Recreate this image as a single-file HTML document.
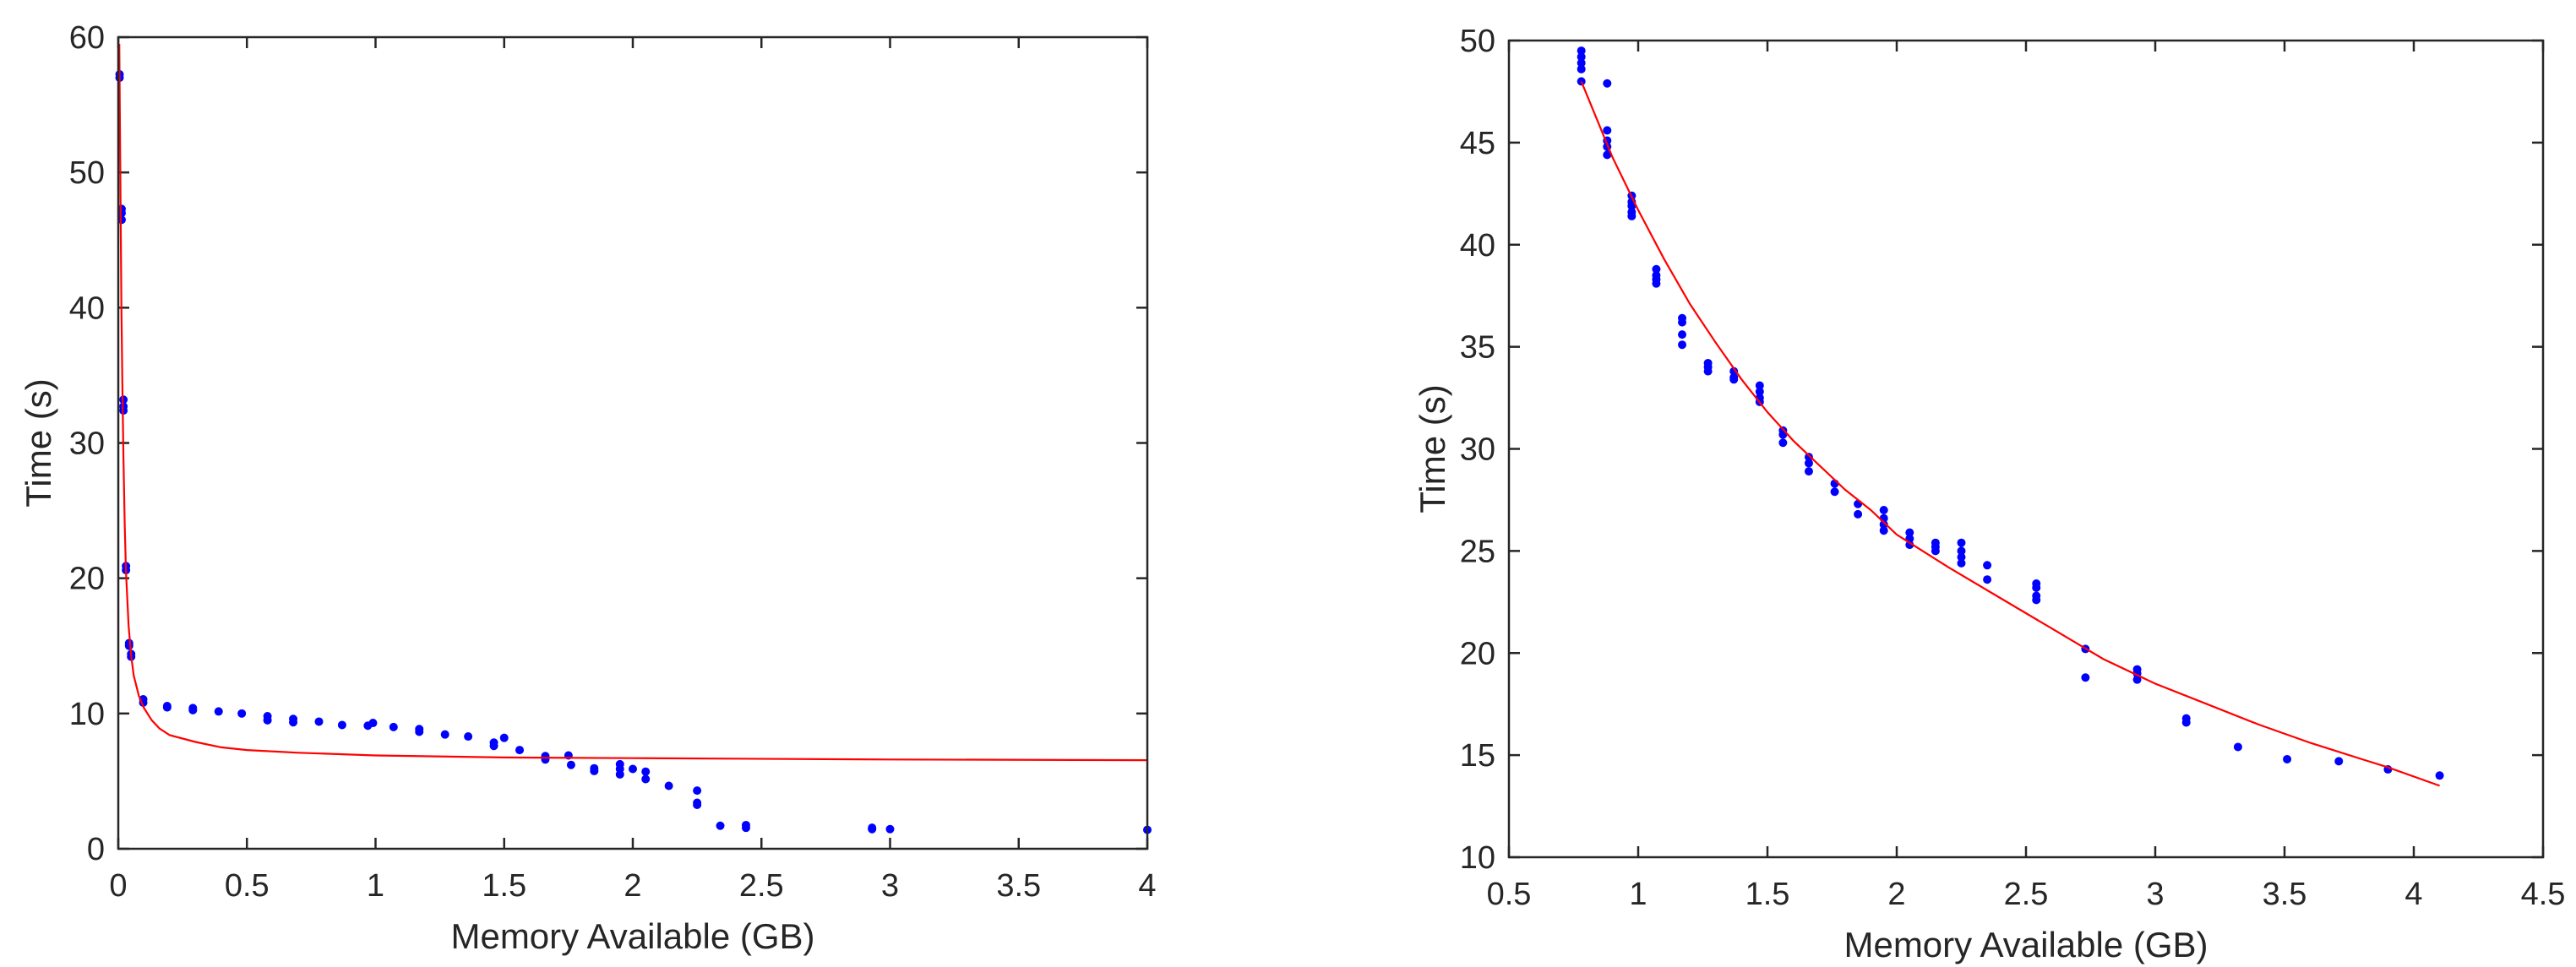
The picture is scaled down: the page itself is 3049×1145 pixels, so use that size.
<!DOCTYPE html>
<html><head><meta charset="utf-8"><style>
html,body{margin:0;padding:0;background:#fff;}
svg{display:block;font-family:"Liberation Sans",Arial,sans-serif;}
</style></head><body>
<svg id="chart" width="3049" height="1145" viewBox="0 0 3049 1145" xmlns="http://www.w3.org/2000/svg">
<g id="left"></g>
<g id="right"></g>
</svg>
<script>
// Left plot data
const leftXTicks = [0,0.5,1,1.5,2,2.5,3,3.5,4];
const leftXTickLabels = ["0","0.5","1","1.5","2","2.5","3","3.5","4"];
const leftYTicks = [0,10,20,30,40,50,60];
const leftYTickLabels = ["0","10","20","30","40","50","60"];
const leftPointsX = [0.005,0.005,0.013,0.013,0.013,0.02,0.02,0.02,0.03,0.03,0.042,0.042,0.05,0.05,0.097,0.097,0.19,0.19,0.29,0.29,0.39,0.48,0.58,0.58,0.68,0.68,0.78,0.87,0.97,0.99,1.07,1.17,1.17,1.27,1.36,1.46,1.46,1.50,1.56,1.66,1.66,1.75,1.76,1.85,1.85,1.95,1.95,1.95,2.0,2.05,2.05,2.14,2.25,2.25,2.25,2.34,2.44,2.44,2.93,2.93,3.0,4.0];
const leftPointsY = [57.25,57.0,47.3,47.0,46.5,33.2,32.7,32.4,20.9,20.6,15.2,15.0,14.4,14.2,11.05,10.8,10.55,10.45,10.4,10.25,10.15,10.0,9.8,9.5,9.6,9.35,9.4,9.15,9.1,9.3,9.0,8.85,8.65,8.45,8.3,7.85,7.6,8.2,7.3,6.85,6.6,6.9,6.2,5.95,5.75,6.25,5.9,5.5,5.9,5.7,5.15,4.65,4.3,3.4,3.25,1.7,1.75,1.55,1.55,1.45,1.45,1.4];
const leftCurveX = [0.004,0.008,0.012,0.016,0.02,0.025,0.03,0.04,0.05,0.06,0.08,0.1,0.13,0.16,0.2,0.3,0.4,0.5,0.7,1,1.5,2,3,4];
const leftCurveY = [59.5,50,40,34,29,24,20.5,16.5,14.3,12.8,11.3,10.4,9.5,8.9,8.4,7.9,7.5,7.3,7.1,6.9,6.75,6.7,6.6,6.55];
// Right plot data
const rightXTicks = [0.5,1,1.5,2,2.5,3,3.5,4,4.5];
const rightXTickLabels = ["0.5","1","1.5","2","2.5","3","3.5","4","4.5"];
const rightYTicks = [10,15,20,25,30,35,40,45,50];
const rightYTickLabels = ["10","15","20","25","30","35","40","45","50"];
const rightPointsX = [0.78,0.78,0.78,0.78,0.78,0.88,0.88,0.88,0.88,0.88,0.975,0.975,0.975,0.975,0.975,1.07,1.07,1.07,1.07,1.17,1.17,1.17,1.17,1.27,1.27,1.27,1.37,1.37,1.37,1.47,1.47,1.47,1.47,1.56,1.56,1.56,1.66,1.66,1.66,1.76,1.76,1.85,1.85,1.95,1.95,1.95,1.95,2.05,2.05,2.05,2.15,2.15,2.15,2.25,2.25,2.25,2.25,2.35,2.35,2.54,2.54,2.54,2.54,2.73,2.73,2.93,2.93,2.93,3.12,3.12,3.32,3.51,3.71,3.9,4.1];
const rightPointsY = [49.5,49.2,48.9,48.6,48.0,47.9,45.6,45.1,44.8,44.4,42.4,42.1,41.9,41.6,41.4,38.8,38.5,38.3,38.1,36.4,36.2,35.6,35.1,34.2,34.0,33.8,33.8,33.5,33.4,33.1,32.8,32.5,32.3,30.9,30.7,30.3,29.6,29.3,28.9,28.3,27.9,27.3,26.8,27.0,26.6,26.3,26.0,25.9,25.6,25.3,25.4,25.2,25.0,25.4,25.0,24.7,24.4,24.3,23.6,23.4,23.2,22.8,22.6,20.2,18.8,19.2,19.0,18.7,16.8,16.6,15.4,14.8,14.7,14.3,14.0];
const rightCurveX = [0.78,0.9,1.0,1.1,1.2,1.3,1.4,1.5,1.6,1.7,1.8,1.9,2.0,2.2,2.4,2.6,2.8,3.0,3.2,3.4,3.6,3.8,3.9,4.1];
const rightCurveY = [48,44.3,41.7,39.3,37.1,35.2,33.4,31.8,30.4,29.2,28.0,27.0,25.8,24.2,22.7,21.2,19.7,18.5,17.5,16.5,15.6,14.8,14.4,13.5];

const NS = "http://www.w3.org/2000/svg";
function mk(tag, attrs, parent){const e=document.createElementNS(NS,tag);for(const k in attrs)e.setAttribute(k,attrs[k]);parent.appendChild(e);return e;}

function drawPlot(g, box, xd, yd, xTicks, xLabels, yTicks, yLabels, px, py, cx, cy, prefix){
  const sx = v => box.x0 + (v - xd[0])/(xd[1]-xd[0])*(box.x1-box.x0);
  const sy = v => box.y1 - (v - yd[0])/(yd[1]-yd[0])*(box.y1-box.y0);
  const tl = 13;
  xTicks.forEach((t,i)=>{
    const x = sx(t);
    const a = mk('line',{x1:x,y1:box.y1,x2:x,y2:box.y1-tl,stroke:'#262626','stroke-width':2.5},g);
    
    
    const b = mk('line',{x1:x,y1:box.y0,x2:x,y2:box.y0+tl,stroke:'#262626','stroke-width':2.5},g);
    
    
    const tx = mk('text',{x:x,y:box.y1+56,'font-size':38,'text-anchor':'middle',fill:'#262626'},g);
    tx.textContent = xLabels[i];
    
    
  });
  yTicks.forEach((t,i)=>{
    const y = sy(t);
    const a = mk('line',{x1:box.x0,y1:y,x2:box.x0+tl,y2:y,stroke:'#262626','stroke-width':2.5},g);
    
    
    const b = mk('line',{x1:box.x1,y1:y,x2:box.x1-tl,y2:y,stroke:'#262626','stroke-width':2.5},g);
    
    
    const tx = mk('text',{x:box.x0-16,y:y+13,'font-size':38,'text-anchor':'end',fill:'#262626'},g);
    tx.textContent = yLabels[i];
    
    
  });
  px.forEach((v,i)=>{
    const c = mk('ellipse',{cx:sx(v),cy:sy(py[i]),rx:5,ry:5,fill:'#0000ff'},g);
    
    
  });
  const d = cx.map((v,i)=>(i?'L':'M')+sx(v).toFixed(1)+','+sy(cy[i]).toFixed(1)).join(' ');
  const p = mk('path',{d:d,fill:'none',stroke:'#ff0000','stroke-width':2.2},g);
  
  
  const r = mk('rect',{x:box.x0,y:box.y0,width:box.x1-box.x0,height:box.y1-box.y0,fill:'none',stroke:'#262626','stroke-width':2.5},g);
  
  
  const xt = mk('text',{x:(box.x0+box.x1)/2,y:box.y1+118,'font-size':42,'text-anchor':'middle',fill:'#262626'},g);
  xt.textContent = 'Memory Available (GB)';
  
  
  const yc = (box.y0+box.y1)/2;
  const yt = mk('text',{x:box.xl,y:yc,'font-size':42,'text-anchor':'middle',fill:'#262626',transform:'rotate(-90 '+box.xl+' '+yc+')'},g);
  yt.textContent = 'Time (s)';
  
  
}
drawPlot(document.getElementById('left'), {x0:140,x1:1358,y0:44,y1:1005,xl:60},
  [0,4],[0,60], leftXTicks,leftXTickLabels,leftYTicks,leftYTickLabels, leftPointsX,leftPointsY,leftCurveX,leftCurveY,'left');
drawPlot(document.getElementById('right'), {x0:1786,x1:3010,y0:48,y1:1015,xl:1710},
  [0.5,4.5],[10,50], rightXTicks,rightXTickLabels,rightYTicks,rightYTickLabels, rightPointsX,rightPointsY,rightCurveX,rightCurveY,'right');
</script>
</body></html>
